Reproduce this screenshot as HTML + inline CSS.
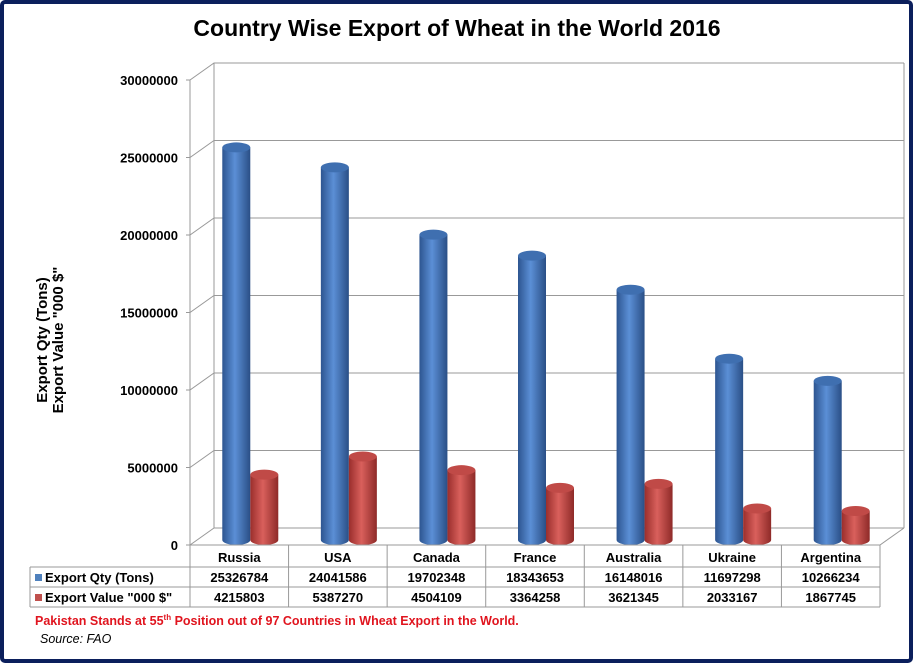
<!DOCTYPE html>
<html><head><meta charset="utf-8"><style>
body{margin:0;background:#fff;}
svg{display:block;font-family:"Liberation Sans",Verdana,sans-serif;}
</style></head><body>
<svg width="914" height="665" viewBox="0 0 914 665">
<defs>
<linearGradient id="gb" x1="0" x2="1"><stop offset="0" stop-color="#2d5590"/><stop offset="0.45" stop-color="#5b8fd6"/><stop offset="1" stop-color="#2a4f86"/></linearGradient>
<linearGradient id="gr" x1="0" x2="1"><stop offset="0" stop-color="#9a2e2c"/><stop offset="0.45" stop-color="#d9605c"/><stop offset="1" stop-color="#8e2a28"/></linearGradient>
</defs>
<rect x="2" y="2" width="909" height="659" fill="#fff" stroke="#0b1f5c" stroke-width="4" rx="3"/>
<text x="457" y="36" text-anchor="middle" font-size="23" font-weight="bold" fill="#000">Country Wise Export of Wheat in the World 2016</text>
<g transform="translate(47,340) rotate(-90)">
<text x="0" y="0" text-anchor="middle" font-size="15" font-weight="bold">Export Qty  (Tons)</text>
<text x="0" y="16" text-anchor="middle" font-size="15" font-weight="bold">Export Value "000 $"</text>
</g>
<g id="grid"></g><g id="bars"></g><g id="table"></g>
<text x="35" y="625" font-size="12.5" font-weight="bold" fill="#e0141e">Pakistan Stands at 55<tspan font-size="8" dy="-5">th</tspan><tspan dy="5"> Position out of 97 Countries in Wheat Export in the World.</tspan></text>
<text x="40" y="643" font-size="12.5" font-style="italic" fill="#000">Source: FAO</text>
</svg>
<script>
const categories=["Russia","USA","Canada","France","Australia","Ukraine","Argentina"];
const qty=[25326784,24041586,19702348,18343653,16148016,11697298,10266234];
const val=[4215803,5387270,4504109,3364258,3621345,2033167,1867745];
const ticks=[0,5000000,10000000,15000000,20000000,25000000,30000000];
const seriesNames=["Export Qty (Tons)",'Export Value "000 $"'];
const NS="http://www.w3.org/2000/svg";
function mk(tag,attrs,parent,txt){const e=document.createElementNS(NS,tag);for(const k in attrs)e.setAttribute(k,attrs[k]);if(txt!==undefined)e.textContent=txt;parent.appendChild(e);return e;}
const X0=190,X1=880,Y0=545,DX=24,DY=-17,ppv=465/30000000;
const y=v=>Y0-v*ppv;
const cw=(X1-X0)/categories.length;
const grid=document.getElementById('grid');
// walls
let e=mk('line',{x1:X0,y1:y(30000000),x2:X0,y2:Y0,stroke:'#999'},grid);

ticks.forEach(t=>{
 const yy=y(t);
 let g=mk('polyline',{points:`${X0-4},${yy} ${X0},${yy} ${X0+DX},${yy+DY} ${X1+DX},${yy+DY}`,fill:'none',stroke:'#999'},grid);
 
 let l=mk('text',{x:X0-12,y:yy+5,'text-anchor':'end','font-size':13,'font-weight':'bold'},grid,String(t));
 
});
e=mk('line',{x1:X0+DX,y1:y(30000000)+DY,x2:X0+DX,y2:Y0+DY,stroke:'#999'},grid);

e=mk('line',{x1:X1+DX,y1:y(30000000)+DY,x2:X1+DX,y2:Y0+DY,stroke:'#999'},grid);

e=mk('polyline',{points:`${X0},${Y0} ${X1},${Y0} ${X1+DX},${Y0+DY}`,fill:'none',stroke:'#999'},grid);

// bars
const bars=document.getElementById('bars');
const base=Y0-5,rx=14,ry=5;
function cyl(cx,v,fill,top,name){
 const g=mk('g',{},bars);
 
 const t=base-v*ppv;
 mk('path',{d:`M${cx-rx},${t} L${cx-rx},${base} A${rx},${ry} 0 0 0 ${cx+rx},${base} L${cx+rx},${t} Z`,fill:fill},g);
 mk('ellipse',{cx:cx,cy:t,rx:rx,ry:ry,fill:top},g);
}
categories.forEach((c,i)=>{
 const cc=X0+cw*(i+0.5)+11;
 cyl(cc-14,qty[i],'url(#gb)','#3f6fb0','bar-qty-'+c.toLowerCase());
 cyl(cc+14,val[i],'url(#gr)','#c04a47','bar-value-'+c.toLowerCase());
});
// table
const tb=document.getElementById('table');
const rows=[545,567,587,607];
mk('line',{x1:X0,y1:545,x2:X1,y2:545,stroke:'#999'},tb);
mk('line',{x1:30,y1:567,x2:X1,y2:567,stroke:'#999'},tb);
mk('line',{x1:30,y1:587,x2:X1,y2:587,stroke:'#999'},tb);
mk('line',{x1:30,y1:607,x2:X1,y2:607,stroke:'#999'},tb);
mk('line',{x1:30,y1:567,x2:30,y2:607,stroke:'#999'},tb);
for(let i=0;i<=categories.length;i++){mk('line',{x1:X0+cw*i,y1:545,x2:X0+cw*i,y2:607,stroke:'#999'},tb);}
[['#4f81bd',0],['#c0504d',1]].forEach(([col,s])=>{
 const yy=rows[s+1];
 let k=mk('rect',{x:35,y:yy+7,width:7,height:7,fill:col},tb);
 
 let t=mk('text',{x:45,y:yy+15,'font-size':13,'font-weight':'bold'},tb,seriesNames[s]);
 
});
categories.forEach((c,i)=>{
 const cx=X0+cw*(i+0.5);
 let t=mk('text',{x:cx,y:562,'text-anchor':'middle','font-size':13,'font-weight':'bold'},tb,c);
 
 t=mk('text',{x:cx,y:582,'text-anchor':'middle','font-size':13,'font-weight':'bold'},tb,String(qty[i]));
 
 t=mk('text',{x:cx,y:602,'text-anchor':'middle','font-size':13,'font-weight':'bold'},tb,String(val[i]));
 
});
</script>
</body></html>
